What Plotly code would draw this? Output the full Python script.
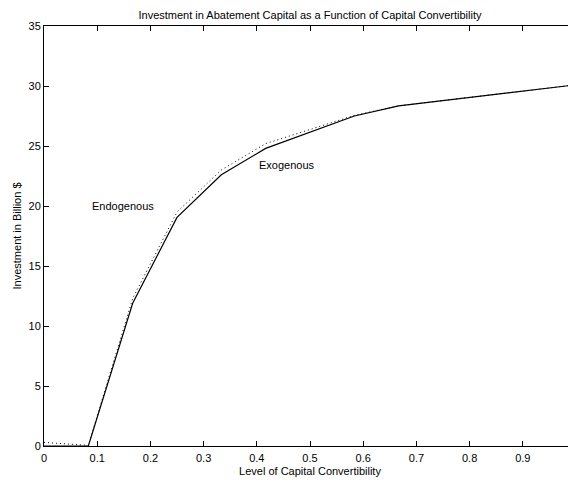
import plotly.graph_objects as go

# Data
conv_x = [0.0, 1/12, 2/12, 3/12, 4/12, 5/12, 7/12, 8/12, 1.0]
endog_y = [0.0, 0.0, 11.9, 19.05, 22.6, 24.8, 27.5, 28.35, 30.1]
exog_x = [0.0, 1/12, 2/12, 3/12, 4/12, 5/12, 7/12, 8/12, 1.0]
exog_y = [0.3, 0.05, 12.3, 19.5, 23.0, 25.2, 27.55, 28.35, 30.1]

x_ticks = [0, 0.1, 0.2, 0.3, 0.4, 0.5, 0.6, 0.7, 0.8, 0.9, 1]
x_tick_text = ["0", "0.1", "0.2", "0.3", "0.4", "0.5", "0.6", "0.7", "0.8", "0.9", "1"]
y_ticks = [0, 5, 10, 15, 20, 25, 30, 35]

labels = ["Endogenous", "Exogenous"]
label_x = [0.086, 0.401]
label_y = [20.0, 23.4]

FONT = "Liberation Sans, Arial, Helvetica, sans-serif"

fig = go.Figure()
fig.add_trace(go.Scatter(x=exog_x, y=exog_y, mode="lines",
                         line=dict(color="black", width=1, dash="1px,3px"),
                         showlegend=False, hoverinfo="skip"))
fig.add_trace(go.Scatter(x=conv_x, y=endog_y, mode="lines",
                         line=dict(color="black", width=1.2),
                         showlegend=False, hoverinfo="skip"))

for t, xx, yy in zip(labels, label_x, label_y):
    fig.add_annotation(x=xx, y=yy, xref="x", yref="y", text=t, showarrow=False,
                       xanchor="left", yanchor="middle",
                       font=dict(family=FONT, size=11, color="black"))

axis_common = dict(showline=True, linecolor="black", linewidth=1, mirror="ticks",
                   ticks="inside", ticklen=5, tickwidth=1, tickcolor="black",
                   showgrid=False, zeroline=False,
                   tickfont=dict(family=FONT, size=11, color="black"))

H = 474
fig.update_layout(
    width=568, height=H,
    margin=dict(l=36, r=0, t=18, b=36, autoexpand=False),
    paper_bgcolor="white", plot_bgcolor="white",
    title=dict(text="Investment in Abatement Capital as a Function of Capital Convertibility",
               x=0.5, xref="paper", y=1 - 7/H, yref="container",
               xanchor="center", yanchor="middle",
               font=dict(family=FONT, size=11, color="black")),
    xaxis=dict(range=[0, 1], tickvals=x_ticks, ticktext=x_tick_text,
               ticklabelstandoff=2,
               title=dict(text="Level of Capital Convertibility", standoff=4,
                          font=dict(family=FONT, size=11, color="black")),
               **axis_common),
    yaxis=dict(range=[0, 35], tickvals=y_ticks,
               title=dict(text="Investment in Billion $", standoff=4,
                          font=dict(family=FONT, size=11, color="black")),
               **axis_common),
)

fig.write_html("out.html")
